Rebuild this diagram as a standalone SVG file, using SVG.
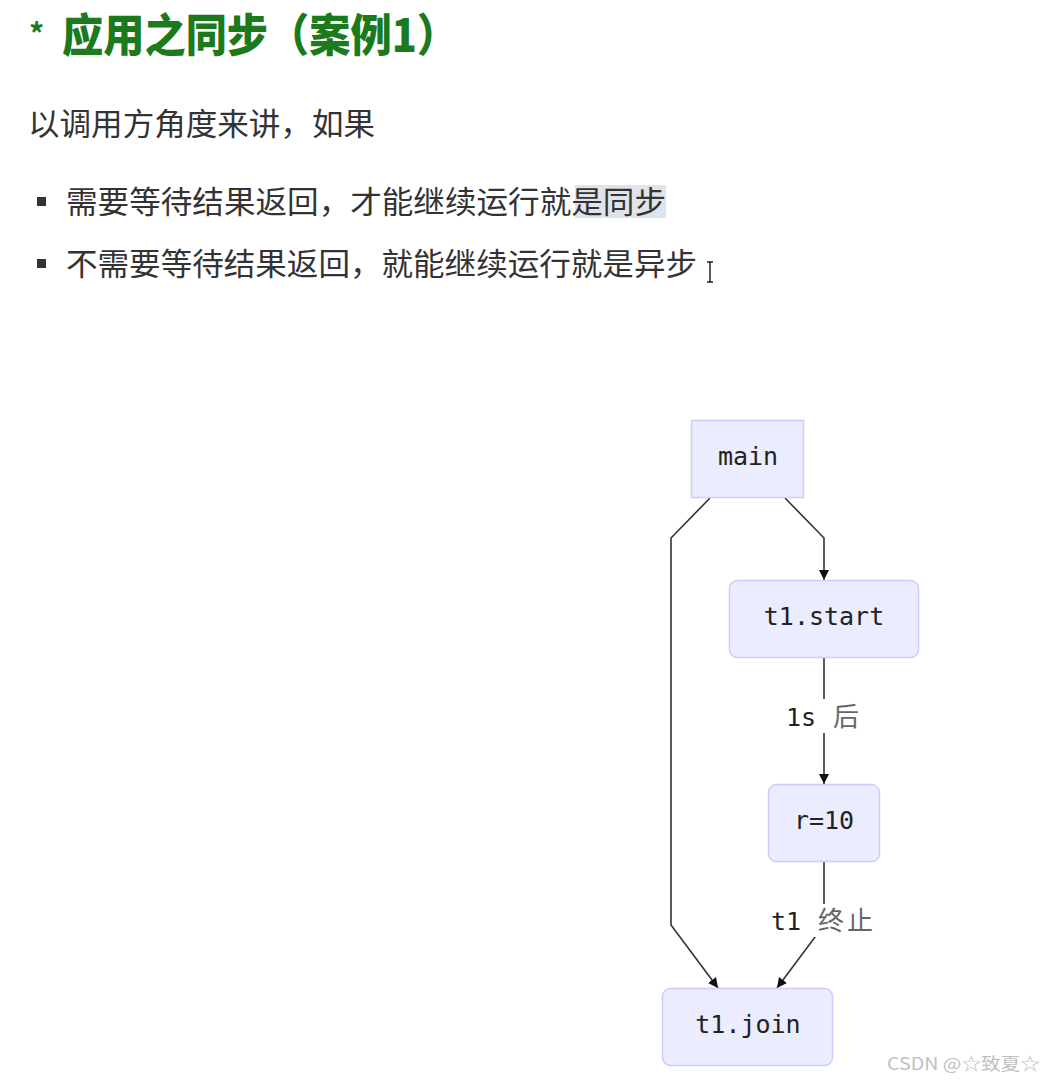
<svg xmlns="http://www.w3.org/2000/svg" width="1042" height="1082" viewBox="0 0 1042 1082">
<style>
.cjk{font-family:"Noto Sans CJK SC","Noto Sans",sans-serif;}
.title{fill:#1b7a1b;font-weight:900;font-size:45px;}
.body{fill:#333;font-size:31px;}
.node rect{fill:#ececff;stroke:#ccccff;stroke-width:1.5;}
.node text{font-family:"DejaVu Sans Mono","Liberation Mono",monospace;font-size:25px;fill:#222;text-anchor:middle;dominant-baseline:central;}
.edge{fill:none;stroke:#333;stroke-width:1.6;}
.lbl{font-family:"DejaVu Sans Mono","Noto Sans CJK SC",monospace;font-size:25px;fill:#222;}
.lblc{font-family:"Noto Sans CJK SC",sans-serif;fill:#666;font-size:26px;}
</style>
<defs>
<marker id="arr" viewBox="0 0 10 10" refX="10" refY="5" markerWidth="10" markerHeight="11" markerUnits="userSpaceOnUse" orient="auto">
<path d="M0,0 L10,5 L0,10 z" fill="#111"/>
</marker>
</defs>
<rect width="1042" height="1082" fill="#fff"/>

<g id="title">
<text x="29" y="45" class="cjk" style="fill:#1b7a1b;font-size:30px;font-weight:700">*</text>
<text x="62" y="52" class="cjk title" textLength="396" lengthAdjust="spacingAndGlyphs">应用之同步（案例1）</text>
</g>

<g id="text">
<text x="28" y="135" class="cjk body" textLength="347" lengthAdjust="spacingAndGlyphs">以调用方角度来讲，如果</text>
<rect x="575" y="185" width="91" height="33" fill="#dfe4ea"/>
<rect x="37" y="197" width="9" height="9" fill="#333"/>
<text x="66" y="213" class="cjk body" textLength="600" lengthAdjust="spacingAndGlyphs">需要等待结果返回，才能继续运行就是同步</text>
<rect x="37" y="259" width="9" height="9" fill="#333"/>
<text x="66" y="275" class="cjk body" textLength="631" lengthAdjust="spacingAndGlyphs">不需要等待结果返回，就能继续运行就是异步</text>
<path d="M707,262 h6 M710,262 v20 M707,282 h6" stroke="#222" stroke-width="1.5" fill="none"/>
</g>

<g id="connectors">
<path class="edge" d="M710,498 L671,538 L671,925 L718,988" marker-end="url(#arr)"/>
<path class="edge" d="M785,498 L824,538 L824,580" marker-end="url(#arr)"/>
<path class="edge" d="M824,658 L824,784" marker-end="url(#arr)"/>
<path class="edge" d="M824,862 L824,925 L777,988" marker-end="url(#arr)"/>
<rect x="783" y="699" width="80" height="34" fill="#fff"/>
<text x="786" y="726" class="lbl">1s<tspan class="lblc" x="833">后</tspan></text>
<rect x="768" y="904" width="112" height="33" fill="#fff"/>
<text x="771" y="930" class="lbl">t1<tspan class="lblc" x="818" letter-spacing="3">终止</tspan></text>
</g>

<g id="main" class="node">
<rect x="691.5" y="420.5" width="112" height="77"/>
<text x="748" y="456">main</text>
</g>
<g id="t1start" class="node">
<rect x="729.5" y="580.5" width="189" height="77" rx="8"/>
<text x="824" y="616">t1.start</text>
</g>
<g id="r10" class="node">
<rect x="768.5" y="784.5" width="111" height="77" rx="8"/>
<text x="824" y="820">r=10</text>
</g>
<g id="t1join" class="node">
<rect x="662.5" y="988.5" width="170" height="77" rx="8"/>
<text x="748" y="1024">t1.join</text>
</g>

<text x="887" y="1070" class="cjk" style="font-size:17px;fill:#c0c0c0" textLength="153" lengthAdjust="spacingAndGlyphs">CSDN @☆致夏☆</text>
</svg>
